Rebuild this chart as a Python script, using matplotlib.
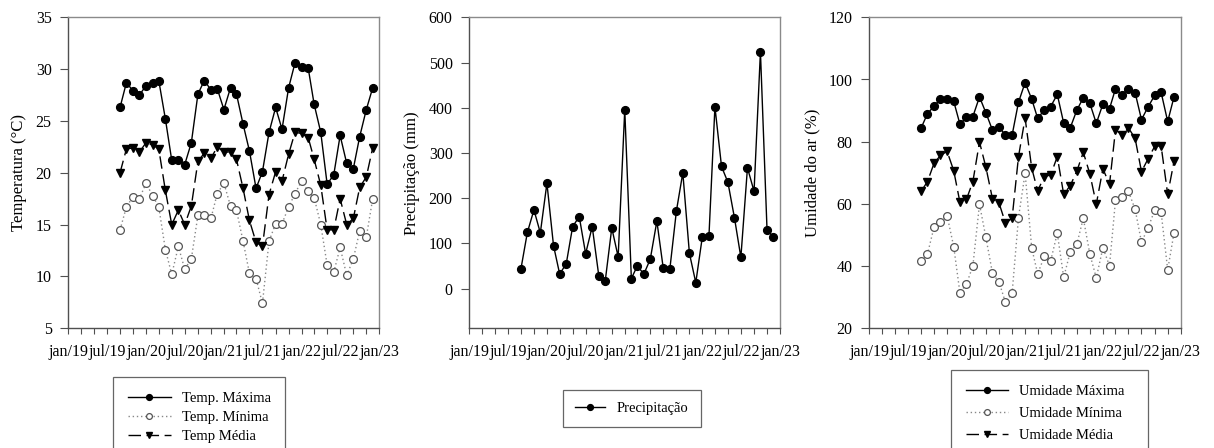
import matplotlib
matplotlib.use('Agg')
import matplotlib.pyplot as plt
import pandas as pd

plt.rcParams['font.family'] = ['Liberation Serif', 'DejaVu Serif']

# ---------------- data ----------------
start_month = '2019-09-01'
end_month = '2022-12-01'

temp_max = [26.3, 28.7, 27.9, 27.5, 28.4, 28.7, 28.9, 25.2, 21.2, 21.2,
            20.8, 22.9, 27.6, 28.9, 28.0, 28.1, 26.1, 28.2, 27.6, 24.7,
            22.1, 18.5, 20.1, 23.9, 26.3, 24.2, 28.2, 30.6, 30.2, 30.1,
            26.6, 23.9, 18.9, 19.8, 23.6, 20.9, 20.4, 23.5, 26.1, 28.2]
temp_min = [14.5, 16.7, 17.7, 17.5, 19.0, 17.8, 16.7, 12.6, 10.2, 12.9,
            10.7, 11.7, 15.9, 15.9, 15.6, 18.0, 19.0, 16.8, 16.4, 13.4,
            10.3, 9.8, 7.4, 13.4, 15.1, 15.1, 16.7, 18.0, 19.2, 18.2,
            17.6, 15.0, 11.1, 10.4, 12.8, 10.1, 11.7, 14.4, 13.8, 17.5]
temp_med = [20.0, 22.3, 22.4, 22.0, 22.9, 22.7, 22.3, 18.3, 15.0, 16.4,
            15.0, 16.8, 21.1, 21.9, 21.4, 22.5, 22.0, 22.0, 21.3, 18.5,
            15.4, 13.3, 12.9, 17.9, 20.1, 19.2, 21.8, 23.9, 23.8, 23.4,
            21.3, 18.8, 14.5, 14.5, 17.5, 15.0, 15.6, 18.6, 19.6, 22.4]

precip = [44, 124, 174, 123, 233, 95, 32, 55, 137, 159,
          77, 137, 28, 16, 134, 70, 396, 22, 50, 32,
          65, 149, 45, 43, 172, 256, 78, 13, 115, 117,
          402, 270, 235, 156, 69, 267, 215, 524, 130, 114]

umid_max = [84.4, 89.0, 91.5, 93.7, 93.7, 93.0, 85.7, 87.8, 88.1, 94.4,
            89.3, 83.7, 84.7, 82.1, 82.1, 92.7, 99.0, 93.7, 87.5, 90.2,
            91.3, 95.2, 86.0, 84.5, 90.2, 94.1, 92.3, 85.9, 92.1, 90.6,
            97.0, 95.1, 97.1, 95.8, 87.1, 91.2, 94.9, 95.9, 86.5, 94.5]
umid_min = [41.7, 43.9, 52.6, 54.3, 56.2, 46.3, 31.5, 34.2, 40.1, 59.9,
            49.2, 37.7, 34.8, 28.3, 31.3, 55.6, 69.9, 45.8, 37.5, 43.1,
            41.7, 50.6, 36.4, 44.6, 47.1, 55.4, 43.8, 36.2, 45.9, 40.1,
            61.1, 62.1, 64.0, 58.3, 47.7, 52.3, 58.0, 57.4, 38.8, 50.8]
umid_med = [64.0, 67.2, 73.1, 75.6, 76.9, 70.7, 60.6, 61.5, 67.2, 79.9,
            71.8, 61.6, 60.2, 53.8, 55.4, 75.2, 87.6, 71.5, 64.2, 68.8,
            69.3, 75.2, 63.1, 65.9, 70.6, 76.6, 69.6, 59.9, 71.3, 66.3,
            83.8, 82.2, 84.4, 81.1, 70.4, 74.5, 78.5, 78.7, 63.1, 73.8]

x_tick_labels = ['jan/19', 'jul/19', 'jan/20', 'jul/20', 'jan/21',
                 'jul/21', 'jan/22', 'jul/22', 'jan/23']

dates = pd.date_range(start_month, end_month, freq='MS')
major = pd.date_range('2019-01-01', '2023-01-01', freq='6MS')
minor = pd.date_range('2019-01-01', '2023-01-01', freq='2MS')

# ---------------- figure ----------------
W, H = 1214, 448
fig = plt.figure(figsize=(W / 100, H / 100), dpi=100)

def px_axes(x0, x1, y0, y1):
    return fig.add_axes([x0 / W, 1 - y1 / H, (x1 - x0) / W, (y1 - y0) / H])

ax1 = px_axes(68.3, 379.3, 17.3, 328.3)
ax2 = px_axes(469.3, 780.0, 17.3, 328.3)
ax3 = px_axes(869.3, 1180.7, 17.3, 328.3)

TICK_FS = 11.5
MS = 5.6

def style(ax):
    ax.set_xlim(major[0], major[-1])
    ax.set_xticks(major)
    ax.set_xticklabels(x_tick_labels)
    ax.set_xticks(minor, minor=True)
    for side in ['left', 'bottom']:
        ax.spines[side].set_color('#505050')
        ax.spines[side].set_linewidth(1.0)
    for side in ['top', 'right']:
        ax.spines[side].set_color('#8a8a8a')
        ax.spines[side].set_linewidth(1.0)
    ax.tick_params(axis='x', which='both', direction='out', length=4,
                   width=0.8, color='#505050', pad=7, labelsize=TICK_FS)
    ax.tick_params(axis='y', which='major', direction='out', length=6,
                   width=0.8, color='#505050', pad=6, labelsize=TICK_FS)

def max_line(ax, y, label):
    ax.plot(dates, y, color='black', lw=1.0, marker='o', ms=MS,
            mfc='black', mec='black', label=label)

def min_line(ax, y, label):
    ax.plot(dates, y, color='#888888', lw=1.0, ls=(0, (1, 2)), marker='o',
            ms=MS, mfc='white', mec='#555555', mew=0.9, label=label)

def med_line(ax, y, label):
    ax.plot(dates, y, color='black', lw=1.0, ls=(0, (9, 4)), marker='v',
            ms=MS + 0.4, mfc='black', mec='black', label=label)

# Panel 1 - temperature
max_line(ax1, temp_max, 'Temp. Máxima')
min_line(ax1, temp_min, 'Temp. Mínima')
med_line(ax1, temp_med, 'Temp Média')
style(ax1)
ax1.set_ylim(5, 35)
ax1.set_yticks([5, 10, 15, 20, 25, 30, 35])
ax1.set_ylabel('Temperatura (°C)', fontsize=12, labelpad=6)

# Panel 2 - precipitation
ax2.plot(dates, precip, color='black', lw=1.0, marker='o', ms=MS,
         mfc='black', mec='black', label='Precipitação')
style(ax2)
ax2.set_ylim(-88, 600)
ax2.set_yticks([0, 100, 200, 300, 400, 500, 600])
ax2.set_ylabel('Precipitação (mm)', fontsize=12, labelpad=6)

# Panel 3 - humidity
max_line(ax3, umid_max, 'Umidade Máxima')
min_line(ax3, umid_min, 'Umidade Mínima')
med_line(ax3, umid_med, 'Umidade Média')
style(ax3)
ax3.set_ylim(20, 120)
ax3.set_yticks([20, 40, 60, 80, 100, 120])
ax3.set_ylabel('Umidade do ar (%)', fontsize=12, labelpad=6)

# Legends (below each panel)
def legend(ax, x0, y0, x1, spacing, hlen, fs, bpad):
    lg = ax.legend(loc='upper left',
                   bbox_to_anchor=(x0 / W, 1 - (y0 + 40) / H, (x1 - x0) / W, 40 / H),
                   bbox_transform=fig.transFigure, mode='expand',
                   fontsize=fs, frameon=True, fancybox=False, shadow=False,
                   handlelength=hlen, handletextpad=0.75, labelspacing=spacing,
                   borderpad=bpad, borderaxespad=0.0, markerscale=0.75)
    fr = lg.get_frame()
    fr.set_edgecolor('#404040')
    fr.set_linewidth(0.9)
    return lg

legend(ax1, 113, 377, 285, 0.4, 3.0, 10.5, 1.0)
legend(ax2, 563, 390, 701, 0.5, 2.1, 10.5, 0.8)
legend(ax3, 951, 370, 1148, 0.6, 2.9, 10.5, 1.0)

fig.savefig('out.png', dpi=100)
